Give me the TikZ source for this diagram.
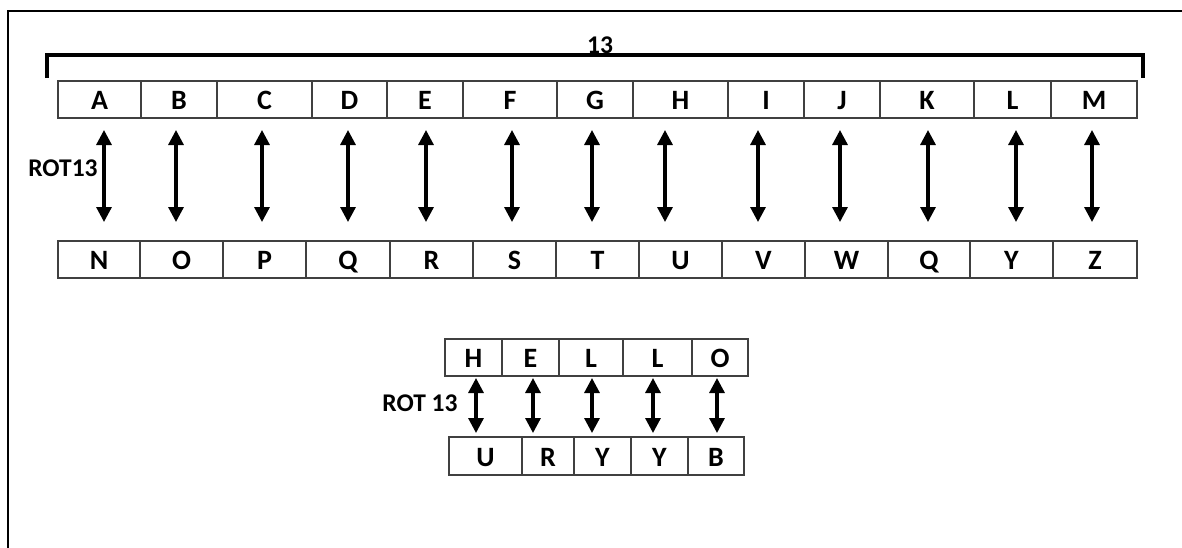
\documentclass[tikz,border=0pt]{standalone}
\usepackage{fontspec}
\setmainfont{Carlito}
\usetikzlibrary{arrows.meta}
\begin{document}
\begin{tikzpicture}[x=1pt,y=-1pt,
  cell/.style={draw=black!75, line width=1.3pt, inner sep=0pt,
    text height=20pt, text depth=0pt,
    font=\fontsize{28}{32}\selectfont\bfseries},
  rotarrow/.style={line width=3.2pt,
    {Triangle[width=15pt,length=15pt]}-{Triangle[width=15pt,length=15pt]}},
  lbl/.style={inner sep=0pt, font=\fontsize{25.5}{30}\selectfont\bfseries},
  frameline/.style={line width=2pt},
  bracketline/.style={line width=3.5pt, line join=miter},
]
\useasboundingbox (0,0) rectangle (1182,547);
\clip (0,0) rectangle (1182,547);
% partial outer frame
\draw[frameline] (8,611) -- (8,11) -- (1250,11);
% bracket
\coordinate (brl) at (47,78);
\coordinate (brr) at (1143,78);
\draw[bracketline] (brl) -- (47,55) -- (1143,55) -- (brr);
\node[lbl, anchor=base] (n13) at (600,53) {13};
% top alphabet row
\foreach \n/\l/\r/\t in {t1/58/141/A, t2/141/217/B, t3/217/312/C, t4/312/387/D,
  t5/387/463/E, t6/463/557/F, t7/557/633/G, t8/633/728/H, t9/728/804/I,
  t10/804/880/J, t11/880/974/K, t12/974/1051/L, t13/1051/1137/M}
  \node[cell, minimum width={\r pt-\l pt}, minimum height=37pt] (\n) at ({(\l+\r)/2},99.5) {\t};
% bottom alphabet row
\foreach \n/\l/\r/\t in {b1/58/140/N, b2/140/223/O, b3/223/306/P, b4/306/390/Q,
  b5/390/473/R, b6/473/556/S, b7/556/639/T, b8/639/722/U, b9/722/805/V,
  b10/805/888/W, b11/888/970/Q, b12/970/1053/Y, b13/1053/1137/Z}
  \node[cell, minimum width={\r pt-\l pt}, minimum height=37pt] (\n) at ({(\l+\r)/2},259.5) {\t};
% arrows between rows
\foreach \i/\x in {1/104, 2/176, 3/262, 4/348, 5/426, 6/512, 7/592, 8/665,
  9/758, 10/840, 11/928, 12/1016, 13/1092} {
  \coordinate (au\i) at (\x,130);
  \coordinate (ad\i) at (\x,222);
  \draw[rotarrow] (au\i) -- (ad\i);
}
\node[lbl] (rot1) at (63,168) {ROT13};
% HELLO example
\foreach \n/\l/\r/\t in {h1/445/502/H, h2/502/559/E, h3/559/623/L, h4/623/692/L, h5/692/748/O}
  \node[cell, minimum width={\r pt-\l pt}, minimum height=37pt] (\n) at ({(\l+\r)/2},357.5) {\t};
\foreach \n/\l/\r/\t in {u1/449/522/U, u2/522/574/R, u3/574/631/Y, u4/631/688/Y, u5/688/744/B}
  \node[cell, minimum width={\r pt-\l pt}, minimum height=38pt] (\n) at ({(\l+\r)/2},456) {\t};
\foreach \i/\x in {1/476, 2/533, 3/592, 4/653, 5/717} {
  \coordinate (hu\i) at (\x,378);
  \coordinate (hd\i) at (\x,433);
  \draw[rotarrow] (hu\i) -- (hd\i);
}
\node[lbl] (rot2) at (420,403) {ROT 13};
\end{tikzpicture}
\end{document}
